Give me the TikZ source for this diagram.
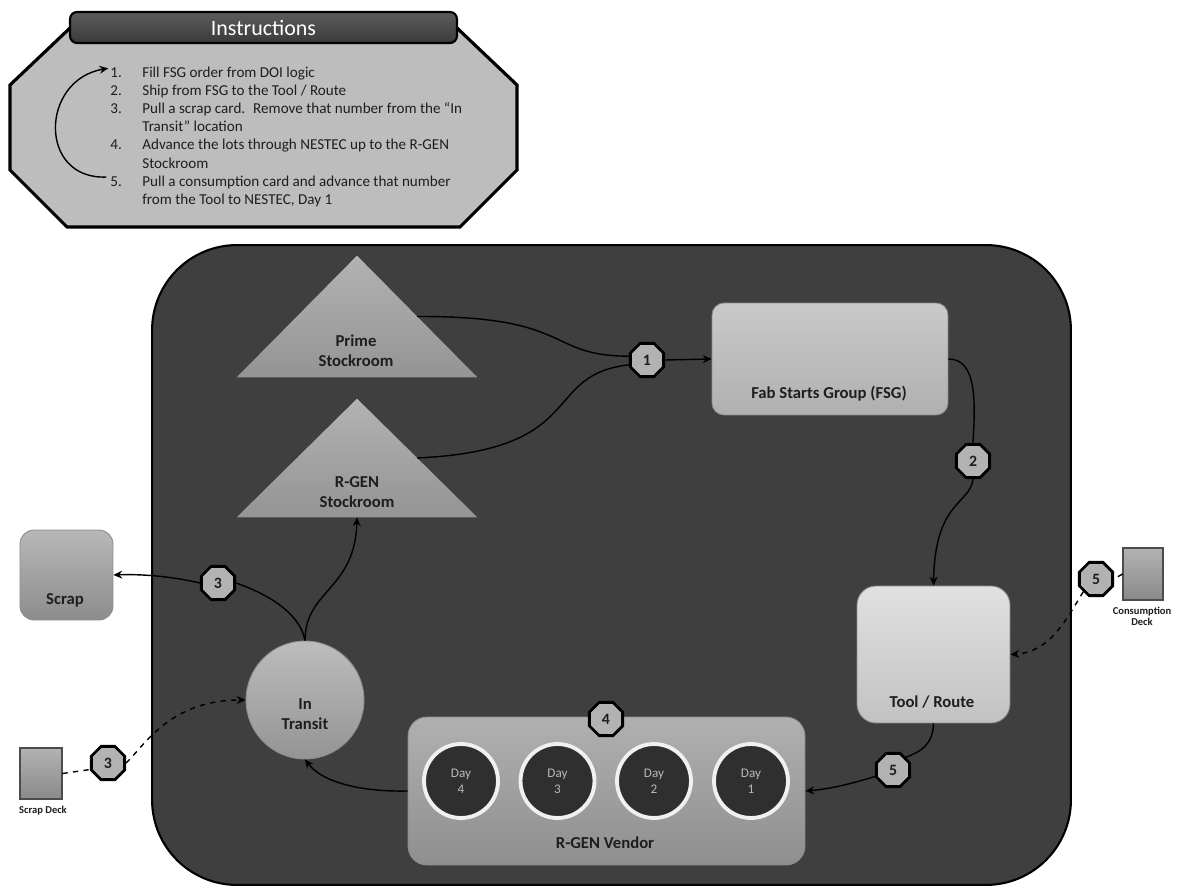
\documentclass[tikz,border=0pt]{standalone}
\usepackage{fontspec}
\setmainfont{Carlito}
\usetikzlibrary{arrows.meta,shapes.geometric,calc}

\definecolor{boardgray}{HTML}{3F3F3F}
\definecolor{panelgray}{HTML}{BDBDBD}
\definecolor{headtop}{HTML}{5C5C5C}
\definecolor{headbot}{HTML}{3A3A3A}
\definecolor{badgegray}{HTML}{B2B2B2}
\definecolor{daygray}{HTML}{2F2F2F}
\definecolor{daytext}{HTML}{B8B8B8}
\definecolor{inktext}{HTML}{1E1E1E}

\tikzset{
  badge/.style={regular polygon, regular polygon sides=8, minimum size=0.72cm,
    inner sep=0pt, draw=black, line width=1.6pt, fill=badgegray,
    font=\fontsize{9}{10}\selectfont\bfseries, text=inktext},
  flow/.style={line width=0.8pt, draw=black, -{Stealth[length=5pt,width=4.5pt]}},
  link/.style={line width=0.8pt, draw=black},
  dashflow/.style={flow, dashed},
  dashlink/.style={link, dashed},
  boxlabel/.style={font=\fontsize{9.5}{11.4}\selectfont\bfseries, text=inktext,
    align=center, inner sep=0pt},
  softbox/.style={draw=black!45, line width=0.5pt, inner sep=0pt},
  itemtxt/.style={font=\fontsize{8.6}{10.2}\selectfont, text=inktext,
    inner sep=0pt, anchor=base west},
  daycircle/.style={circle, minimum size=1.48cm, inner sep=0pt, fill=daygray,
    draw=white!94!black, line width=2.2pt, text=daytext, align=center,
    font=\fontsize{7.5}{9}\selectfont},
  deck/.style={draw=black!70, line width=0.6pt, inner sep=0pt,
    top color=black!30, bottom color=black!46},
  decklabel/.style={font=\fontsize{6}{6.3}\selectfont\bfseries, text=inktext,
    align=center, inner sep=0pt}
}

\begin{document}
\begin{tikzpicture}[x=0.02cm, y=-0.02cm]
\useasboundingbox (0,0) rectangle (1177,888);

% ---------- instruction panel ----------
\draw[fill=panelgray, line width=1.8pt]
  (70,28) -- (457,28) -- (517,85) -- (517,170) -- (460,227)
  -- (67,227) -- (10,170) -- (10,85) -- cycle;
\node[draw=black, line width=1.2pt, rounded corners=0.14cm,
      top color=headtop, bottom color=headbot,
      minimum width=7.74cm, minimum height=0.62cm, inner sep=0pt,
      text=white, font=\fontsize{12.5}{14}\selectfont] (head) at (263.5,27.5) {Instructions};

\foreach \k/\y in {1/77.5, 2/95.6, 3/113.7, 4/150, 5/186.2}
  \node[itemtxt] (n\k) at (110,\y) {\k.};
\node[itemtxt] (t1)  at (142,77.5)  {Fill FSG order from DOI logic};
\node[itemtxt] (t2)  at (142,95.6)  {Ship from FSG to the Tool / Route};
\node[itemtxt] (t3)  at (142,113.7) {Pull a scrap card.~ Remove that number from the “In};
\node[itemtxt] (t3b) at (142,131.8) {Transit” location};
\node[itemtxt] (t4)  at (142,150)   {Advance the lots through NESTEC up to the R-GEN};
\node[itemtxt] (t4b) at (142,168.1) {Stockroom};
\node[itemtxt] (t5)  at (142,186.2) {Pull a consumption card and advance that number};
\node[itemtxt] (t5b) at (142,204.3) {from the Tool to NESTEC, Day 1};

\draw[flow] ([xshift=-2pt,yshift=2.5pt]n5.west) .. controls (38,180) and (40,80)
  .. ([xshift=-1pt,yshift=2.5pt]n1.west);

% ---------- main board ----------
\node[draw=black, line width=1.2pt, fill=boardgray, rounded corners=1.7cm,
      minimum width=18.38cm, minimum height=12.8cm, inner sep=0pt] (board) at (611.5,565) {};

% stockrooms (triangles)
\node[minimum width=4.8cm, minimum height=2.42cm, inner sep=0pt] (prime) at (357,316.5) {};
\shade[top color=black!30, bottom color=black!42]
  (prime.south west) -- (prime.north) -- (prime.south east) -- cycle;
\node[boxlabel] (primetxt) at (356,351) {Prime\\Stockroom};

\node[minimum width=4.8cm, minimum height=2.36cm, inner sep=0pt] (rgen) at (357,458) {};
\shade[top color=black!30, bottom color=black!42]
  (rgen.south west) -- (rgen.north) -- (rgen.south east) -- cycle;
\node[boxlabel] (rgentxt) at (357,492) {R-GEN\\Stockroom};

% boxes
\node[softbox, rounded corners=0.24cm, minimum width=4.72cm, minimum height=2.24cm,
      top color=black!21, bottom color=black!31] (fsg) at (830,359) {};
\node[boxlabel] (fsgtxt) at (829,394) {Fab Starts Group (FSG)};

\node[softbox, rounded corners=0.38cm, minimum width=3.06cm, minimum height=2.74cm,
      top color=black!12, bottom color=black!24] (tool) at (933.5,654.5) {};
\node[boxlabel] (tooltxt) at (932,702) {Tool / Route};

\node[softbox, rounded corners=0.38cm, minimum width=7.94cm, minimum height=2.96cm,
      top color=black!31, bottom color=black!44] (vendor) at (606.5,791) {};
\node[boxlabel] (vendortxt) at (605,843) {R-GEN Vendor};

\foreach \d/\x in {4/461, 3/557.5, 2/654, 1/751}
  \node[daycircle] (day\d) at (\x,781) {Day\\\d};

\node[circle, draw=black!45, line width=0.5pt, minimum size=2.36cm, inner sep=0pt,
      top color=black!26, bottom color=black!42] (transit) at (305,700) {};
\node[boxlabel] (transittxt) at (305,714) {In\\Transit};

% outside the board
\node[softbox, rounded corners=0.28cm, minimum width=1.86cm, minimum height=1.8cm,
      top color=black!28, bottom color=black!45] (scrap) at (66.5,575) {};
\node[boxlabel] (scraptxt) at (65,600) {Scrap};

\node[deck, minimum width=0.84cm, minimum height=1.02cm] (sdeck) at (41,773.5) {};
\node[decklabel] (sdecktxt) at (43,811) {Scrap Deck};

\node[deck, minimum width=0.8cm, minimum height=1.04cm] (cdeck) at (1143,574) {};
\node[decklabel] (cdecktxt) at (1142,616.5) {Consumption\\Deck};

% step badges
\node[badge] (b1) at (647,360) {1};
\node[badge] (b2) at (973,461) {2};
\node[badge] (b3) at (218,583) {3};
\node[badge] (b3d) at (108,763) {3};
\node[badge] (b4) at (606,719) {4};
\node[badge] (b5) at (893,770) {5};
\node[badge] (b5d) at (1096,579) {5};

% ---------- connectors ----------
\coordinate (primeout) at ($(prime.north)!0.5!(prime.south east)$);
\coordinate (rgenout)  at ($(rgen.north)!0.5!(rgen.south east)$);

\draw[link] (primeout) .. controls (575,316) and (545,356) .. (b1.168);
\draw[link] (rgenout) .. controls (590,450) and (540,375) .. (b1.195);
\draw[flow] (b1.east) -- (fsg.west);

\draw[link] (fsg.east) .. controls (978,359) and (975,405) .. (b2.north);
\draw[flow] (b2.south) .. controls (970,505) and (935,500) .. (tool.north);

\draw[link] (tool.south) .. controls (933,745) and (920,752) .. (b5.north east);
\draw[flow] (b5.200) .. controls (850,784) and (830,789) .. (vendor.east);

\draw[flow] (vendor.west) .. controls (360,792) and (322,782) .. (transit.south);
\draw[flow] (transit.north) .. controls (305,590) and (355,590) .. (rgen.south);
\draw[link] (transit.north) .. controls (300,612) and (265,593) .. (b3.east);
\draw[flow] (b3.west) .. controls (170,576) and (140,574) .. (scrap.east);

\draw[dashlink] (sdeck.east) -- (b3d.200);
\draw[dashflow] (b3d.east) .. controls (145,745) and (170,700) .. (transit.west);

\draw[dashlink] (cdeck.west) -- (b5d.east);
\draw[dashflow] (b5d.south west) .. controls (1066,620) and (1050,652) .. (tool.east);

\end{tikzpicture}
\end{document}
